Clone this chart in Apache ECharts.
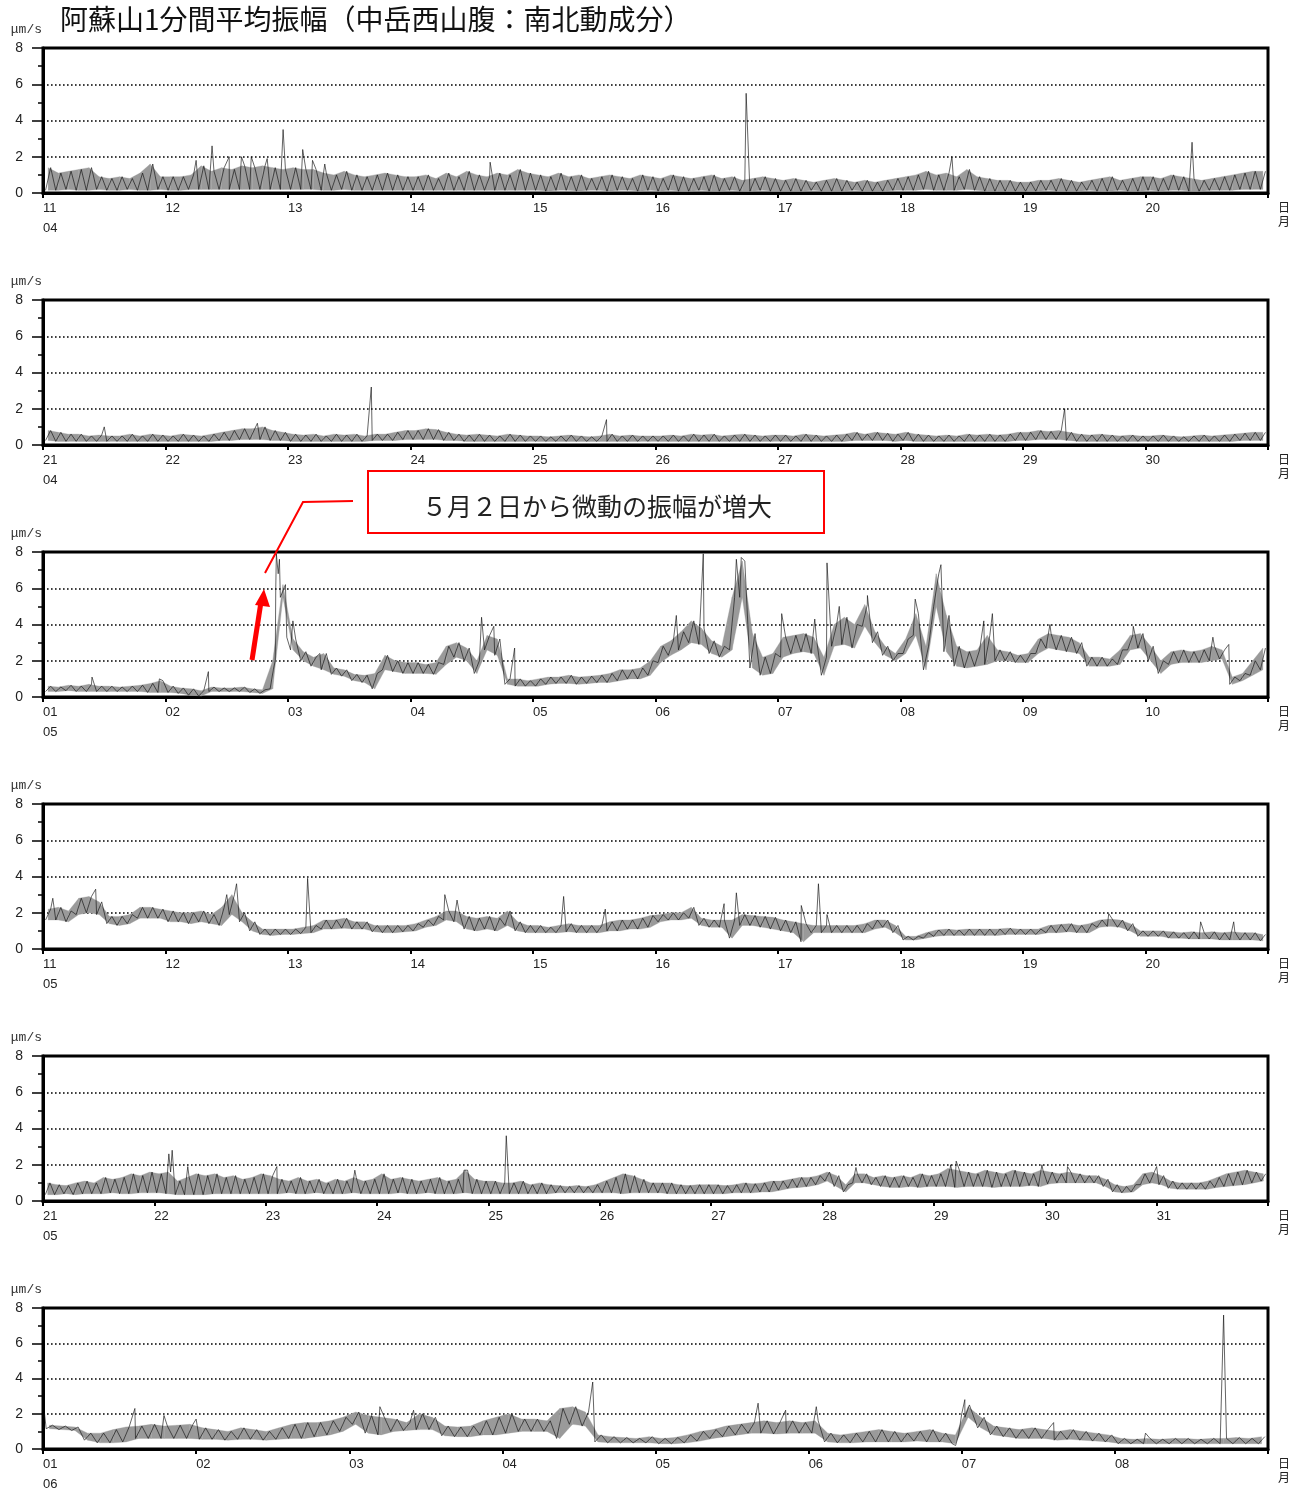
<!DOCTYPE html>
<html><head><meta charset="utf-8">
<script src="https://cdn.jsdelivr.net/npm/echarts@6/dist/echarts.min.js"></script>
<style>html,body{margin:0;padding:0;background:#fff}#c{width:1303px;height:1494px}</style>
</head><body><div id="c"></div>
<script>
// ---- tick labels ----
const p1Days = ['11','12','13','14','15','16','17','18','19','20'];
const p2Days = ['21','22','23','24','25','26','27','28','29','30'];
const p3Days = ['01','02','03','04','05','06','07','08','09','10'];
const p4Days = ['11','12','13','14','15','16','17','18','19','20'];
const p5Days = ['21','22','23','24','25','26','27','28','29','30','31'];
const p6Days = ['01','02','03','04','05','06','07','08'];
const panelMonths = ['04','04','05','05','05','06'];
const panelStartDay = [11, 21, 1, 11, 21, 1];
const yTicks = [0, 2, 4, 6, 8];

// ---- values: 2-hour bins (12 per day), low / high of 1-min mean amplitude (μm/s) ----
const p1Lo = [
0.15,0.15,0.2,0.15,0.15,0.2,0.15,0.15,0.2,0.15,0.15,0.2,
0.15,0.15,0.2,0.2,0.2,0.2,0.2,0.2,0.2,0.2,0.2,0.2,
0.2,0.2,0.2,0.15,0.15,0.2,0.15,0.15,0.15,0.15,0.15,0.15,
0.15,0.15,0.15,0.15,0.15,0.15,0.15,0.15,0.15,0.15,0.15,0.15,
0.15,0.1,0.15,0.15,0.1,0.15,0.15,0.1,0.15,0.15,0.1,0.15,
0.1,0.15,0.1,0.1,0.15,0.1,0.1,0.15,0.1,0.1,0.15,0.1,
0.1,0.1,0.1,0.15,0.1,0.1,0.1,0.15,0.1,0.1,0.1,0.15,
0.15,0.15,0.2,0.15,0.15,0.15,0.2,0.15,0.1,0.1,0.1,0.1,
0.1,0.1,0.15,0.1,0.1,0.1,0.15,0.1,0.1,0.15,0.1,0.1,
0.15,0.1,0.15,0.15,0.1,0.1,0.15,0.15,0.15,0.2,0.2,0.2];
const p1Hi = [
1.4,1.1,1.2,1.3,1.4,0.9,0.8,0.9,0.8,1.1,1.6,0.9,
0.9,0.9,1.0,1.5,1.2,1.4,1.3,1.5,1.4,1.5,1.4,1.3,
1.4,1.3,1.3,1.1,1.0,1.2,1.0,0.9,1.0,1.1,1.0,0.9,
0.9,1.0,0.8,1.1,0.9,1.2,1.0,0.9,1.1,1.0,1.3,1.1,
1.0,0.9,1.1,0.9,1.0,0.8,0.9,1.0,0.9,0.8,1.0,0.9,
0.8,1.0,0.9,0.8,0.9,1.0,0.8,0.9,0.7,0.8,0.9,0.8,
0.7,0.8,0.7,0.6,0.7,0.8,0.7,0.6,0.7,0.6,0.7,0.8,
0.9,1.0,1.2,1.0,1.1,0.9,1.3,0.9,0.8,0.7,0.7,0.6,
0.6,0.7,0.7,0.8,0.7,0.6,0.7,0.8,0.9,0.7,0.8,0.9,
0.9,0.8,1.0,0.9,0.8,0.7,0.8,0.9,1.0,1.1,1.2,1.2];
const p1Extra = [[12.25,1.8],[12.38,2.6],[12.52,2.0],[12.62,2.0],[12.7,2.0],[12.83,1.9],[12.96,3.5],[13.12,2.4],[13.2,1.8],[13.3,1.6],[14.65,1.7],[16.74,5.5],[18.42,2.0],[20.38,2.8]];

const p2Lo = [
0.25,0.2,0.2,0.2,0.2,0.2,0.2,0.2,0.2,0.2,0.2,0.2,
0.2,0.2,0.2,0.2,0.2,0.25,0.25,0.3,0.3,0.3,0.25,0.25,
0.2,0.2,0.2,0.2,0.2,0.2,0.2,0.2,0.25,0.25,0.25,0.3,
0.3,0.3,0.3,0.25,0.25,0.2,0.2,0.2,0.2,0.2,0.2,0.2,
0.2,0.2,0.2,0.2,0.2,0.2,0.2,0.2,0.2,0.2,0.2,0.2,
0.2,0.2,0.2,0.2,0.2,0.2,0.2,0.2,0.2,0.2,0.2,0.2,
0.2,0.2,0.2,0.2,0.2,0.2,0.2,0.25,0.25,0.25,0.25,0.2,
0.25,0.2,0.2,0.2,0.2,0.2,0.2,0.2,0.2,0.2,0.2,0.25,
0.25,0.3,0.3,0.3,0.25,0.2,0.2,0.2,0.2,0.2,0.2,0.2,
0.2,0.2,0.2,0.2,0.2,0.2,0.2,0.2,0.2,0.25,0.25,0.25];
const p2Hi = [
0.8,0.7,0.6,0.6,0.5,0.55,0.5,0.5,0.6,0.5,0.6,0.55,
0.5,0.6,0.55,0.5,0.6,0.7,0.8,0.9,0.9,1.0,0.8,0.7,
0.6,0.55,0.6,0.5,0.6,0.55,0.6,0.5,0.6,0.6,0.7,0.8,
0.8,0.9,0.85,0.7,0.6,0.55,0.6,0.55,0.5,0.6,0.55,0.5,
0.5,0.45,0.5,0.55,0.5,0.45,0.5,0.6,0.5,0.55,0.5,0.5,
0.5,0.55,0.5,0.6,0.55,0.6,0.5,0.55,0.6,0.55,0.5,0.55,
0.55,0.5,0.6,0.55,0.5,0.55,0.6,0.7,0.6,0.7,0.65,0.6,
0.7,0.6,0.55,0.5,0.55,0.5,0.6,0.55,0.6,0.55,0.6,0.7,
0.7,0.8,0.75,0.8,0.7,0.6,0.55,0.6,0.55,0.5,0.55,0.5,
0.5,0.55,0.5,0.45,0.5,0.55,0.5,0.55,0.6,0.65,0.7,0.7];
const p2Extra = [[21.5,1.0],[22.75,1.2],[23.68,3.2],[25.6,1.4],[29.34,2.0]];

const p3Lo = [
0.3,0.3,0.35,0.3,0.3,0.3,0.3,0.3,0.3,0.3,0.25,0.25,
0.25,0.2,0.1,0.05,0.3,0.3,0.3,0.3,0.25,0.2,0.45,5.5,
2.6,2.0,1.7,1.5,1.25,1.15,0.9,0.8,0.45,1.5,1.4,1.3,
1.3,1.3,1.25,1.8,2.2,2.0,1.3,2.6,2.3,0.7,0.6,0.6,
0.6,0.7,0.75,0.75,0.7,0.75,0.8,0.8,0.9,1.0,1.0,1.2,
1.9,2.3,2.6,3.0,2.9,2.4,2.2,2.6,5.5,1.6,1.2,1.3,
2.2,2.4,2.5,2.4,1.2,2.8,2.9,2.7,3.9,3.0,2.3,2.0,
2.4,3.4,1.5,5.0,2.5,1.7,1.6,1.7,1.8,2.0,2.0,1.9,
1.9,2.4,2.7,2.6,2.5,2.4,1.7,1.7,1.7,1.8,2.6,2.7,
2.0,1.3,1.8,1.9,1.9,1.9,2.0,2.1,0.7,0.9,1.2,1.5];
const p3Hi = [
0.6,0.55,0.65,0.6,0.7,0.6,0.6,0.55,0.6,0.65,0.75,0.9,
0.6,0.5,0.45,0.35,0.55,0.5,0.5,0.55,0.45,0.4,2.0,6.2,
3.2,2.5,2.2,2.4,1.6,1.5,1.25,1.2,1.3,2.3,2.0,1.9,
1.9,1.8,1.9,2.8,3.0,2.7,2.0,3.4,3.2,1.0,1.0,0.9,
1.0,1.1,1.1,1.2,1.1,1.15,1.2,1.3,1.5,1.5,1.6,2.0,
2.8,3.1,3.6,4.2,3.8,3.1,2.8,5.5,7.5,3.5,2.2,2.4,
3.3,3.4,3.5,3.3,2.2,4.0,4.4,4.0,5.1,3.6,2.8,2.4,
3.2,4.6,2.8,6.8,4.5,2.8,2.5,2.6,3.4,2.6,2.5,2.3,
2.4,3.2,3.5,3.4,3.3,3.0,2.2,2.2,2.1,2.6,3.4,3.5,
2.8,2.0,2.5,2.6,2.5,2.6,2.8,2.6,1.1,1.3,2.0,2.7];
const p3Extra = [[1.40,1.1],[1.95,1.0],[2.35,1.4],[2.88,1.5],[2.90,6.0],[2.905,7.9],[2.92,6.8],[2.93,7.6],[2.99,3.3],
[3.04,4.2],[3.26,2.4],[4.58,4.4],[4.68,3.9],[4.85,2.7],[6.17,4.5],[6.39,7.9],[6.66,7.6],[6.70,7.7],
[7.03,4.6],[7.30,4.3],[7.40,7.4],[7.50,5.0],[7.73,5.6],[8.12,5.4],[8.33,7.3],[8.68,4.2],[8.75,4.6],
[9.22,4.0],[9.90,3.9],[10.55,3.3],[10.68,2.9]];

const p4Lo = [
1.6,1.6,1.5,1.9,2.0,1.9,1.4,1.3,1.4,1.7,1.7,1.7,
1.5,1.5,1.4,1.5,1.4,1.3,1.9,1.5,1.0,0.8,0.75,0.8,
0.8,0.85,0.9,1.1,1.1,1.15,1.1,1.1,0.95,0.9,0.9,0.95,
1.0,1.2,1.3,1.6,1.5,1.1,1.0,1.1,1.0,1.3,1.0,0.9,
0.9,0.9,0.9,0.95,0.9,0.9,0.9,1.0,1.0,1.1,1.1,1.2,
1.5,1.6,1.6,1.7,1.3,1.2,1.2,0.6,1.3,1.3,1.2,1.1,
1.0,0.9,0.4,0.9,0.9,0.9,0.9,0.9,0.9,1.1,1.2,0.9,
0.5,0.5,0.6,0.7,0.75,0.75,0.75,0.75,0.75,0.75,0.8,0.8,
0.8,0.8,0.9,0.9,0.95,0.9,0.9,1.2,1.25,1.2,1.0,0.7,
0.7,0.7,0.6,0.6,0.55,0.55,0.55,0.5,0.5,0.5,0.5,0.45];
const p4Hi = [
2.2,2.3,2.1,2.8,2.9,2.6,1.8,1.8,1.9,2.3,2.3,2.2,
2.1,2.0,2.0,2.1,1.9,2.3,3.0,2.0,1.5,1.1,1.1,1.1,
1.1,1.2,1.3,1.6,1.6,1.7,1.5,1.5,1.3,1.3,1.3,1.3,
1.4,1.6,1.8,2.1,2.1,1.8,1.7,1.8,1.7,2.1,1.5,1.3,
1.3,1.2,1.3,1.4,1.3,1.3,1.3,1.5,1.6,1.6,1.7,1.85,
1.9,2.0,2.0,2.3,1.7,1.6,1.6,1.6,1.9,1.85,1.8,1.75,
1.6,1.5,1.4,1.3,1.3,1.3,1.3,1.3,1.4,1.6,1.6,1.3,
0.7,0.7,0.9,1.05,1.1,1.05,1.1,1.1,1.1,1.1,1.15,1.1,
1.1,1.1,1.3,1.35,1.4,1.3,1.4,1.6,1.65,1.6,1.4,1.0,
1.0,1.0,0.95,0.9,0.95,0.9,0.95,0.9,0.95,0.9,0.9,0.8];
const p4Extra = [[11.08,2.8],[11.43,3.3],[12.50,3.0],[12.58,3.6],[13.16,3.9],[14.28,3.0],[14.38,2.7],[15.25,2.9],[15.59,2.2],
[16.56,2.5],[16.66,3.1],[17.19,2.4],[17.33,3.6],[17.40,1.9],[19.70,1.95],[20.45,1.5],[20.72,1.5]];

const p5Lo = [
0.35,0.35,0.4,0.35,0.4,0.4,0.4,0.45,0.4,0.4,0.45,0.45,
0.45,0.4,0.35,0.35,0.35,0.35,0.4,0.4,0.4,0.4,0.4,0.4,
0.4,0.4,0.45,0.4,0.4,0.45,0.4,0.4,0.4,0.45,0.4,0.4,
0.4,0.4,0.45,0.4,0.4,0.45,0.4,0.4,0.4,0.45,0.4,0.4,
0.4,0.4,0.4,0.4,0.4,0.4,0.4,0.45,0.45,0.45,0.45,0.45,
0.45,0.45,0.4,0.45,0.45,0.45,0.45,0.4,0.4,0.4,0.4,0.4,
0.4,0.4,0.45,0.45,0.45,0.5,0.5,0.6,0.7,0.75,0.8,0.9,
1.1,0.8,0.5,1.0,1.0,0.9,0.8,0.75,0.75,0.8,0.75,0.8,
0.8,0.8,0.75,0.8,0.8,0.8,0.75,0.8,0.8,0.8,0.85,0.8,
0.95,1.0,1.0,1.0,1.0,1.0,0.8,0.5,0.45,0.5,0.9,1.0,
0.9,0.7,0.65,0.65,0.65,0.65,0.75,0.8,0.85,0.9,1.0,1.1];
const p5Hi = [
1.0,0.9,0.85,1.0,1.1,1.0,1.3,1.2,1.3,1.5,1.4,1.6,
1.5,1.6,1.1,1.3,1.5,1.4,1.5,1.3,1.4,1.2,1.3,1.5,
1.4,1.2,1.1,1.3,1.1,1.2,1.0,1.2,1.1,1.3,1.1,1.2,
1.5,1.2,1.3,1.2,1.1,1.2,1.3,1.1,1.2,1.7,1.2,1.1,
1.1,1.0,1.0,1.1,0.9,1.0,0.9,0.85,0.8,0.85,0.8,0.9,
1.1,1.3,1.5,1.4,1.2,1.0,1.0,1.0,0.9,0.85,0.9,0.9,
0.9,0.85,0.9,1.0,0.95,1.0,1.1,1.1,1.2,1.3,1.3,1.4,
1.6,1.4,0.9,1.5,1.5,1.3,1.4,1.3,1.4,1.3,1.5,1.4,
1.5,1.8,1.7,1.6,1.5,1.7,1.6,1.5,1.7,1.6,1.5,1.7,
1.6,1.5,1.6,1.5,1.4,1.4,1.2,0.9,0.8,0.9,1.5,1.6,
1.4,1.1,1.0,1.0,1.0,1.1,1.3,1.5,1.6,1.7,1.6,1.5];
const p5Extra = [[22.13,2.6],[22.16,2.8],[22.30,1.9],[23.10,1.9],[23.80,1.7],[24.78,1.7],[25.16,3.6],[28.30,1.85],
[29.15,2.0],[29.20,2.2],[29.97,2.0],[30.20,1.9],[31.00,1.9]];

const p6Lo = [
1.15,1.1,1.05,0.5,0.35,0.35,0.4,0.6,0.6,0.6,0.6,0.6,
0.55,0.55,0.5,0.55,0.55,0.5,0.55,0.6,0.6,0.7,0.8,1.0,
1.4,0.9,0.8,1.0,1.05,1.1,1.1,0.75,0.7,0.7,0.8,0.8,
0.9,1.0,1.0,1.0,0.6,1.4,1.3,0.4,0.35,0.35,0.35,0.35,
0.3,0.3,0.35,0.45,0.6,0.7,0.8,0.9,0.9,0.85,0.9,0.9,
0.9,0.4,0.35,0.35,0.4,0.4,0.4,0.4,0.45,0.4,0.4,0.3,
1.8,1.2,0.8,0.7,0.6,0.6,0.6,0.5,0.55,0.5,0.45,0.4,
0.3,0.3,0.3,0.3,0.3,0.3,0.3,0.3,0.3,0.3,0.3,0.3];
const p6Hi = [
1.35,1.3,1.25,0.9,0.9,1.1,1.25,1.3,1.4,1.3,1.35,1.4,
1.2,1.1,1.0,1.2,1.1,1.0,1.2,1.4,1.5,1.5,1.6,1.8,
2.1,1.9,1.8,1.7,1.5,2.0,1.8,1.3,1.25,1.3,1.6,1.8,
2.0,1.7,1.7,1.6,2.3,2.4,2.1,0.8,0.7,0.65,0.6,0.7,
0.6,0.65,0.8,1.0,1.1,1.3,1.4,1.5,1.6,1.5,1.6,1.5,
1.6,0.9,0.8,0.9,1.0,1.1,1.0,0.9,1.0,1.1,0.9,0.8,
2.4,1.8,1.3,1.2,1.1,1.2,1.1,1.0,1.1,1.0,0.9,0.8,
0.6,0.55,0.6,0.55,0.6,0.6,0.55,0.6,0.6,0.65,0.6,0.7];
const p6Extra = [[1.01,2.0],[1.60,2.3],[1.79,1.9],[2.00,1.7],[3.20,2.4],[3.42,2.2],[4.59,3.8],[5.67,2.6],[5.85,2.2],
[6.05,2.4],[6.96,0.2],[7.00,2.0],[7.02,2.8],[7.05,2.5],[7.60,1.5],[8.20,0.9],[8.71,7.6]];

// ---- build chart ----
const panels = [
  {days:p1Days, lo:p1Lo, hi:p1Hi, extra:p1Extra},
  {days:p2Days, lo:p2Lo, hi:p2Hi, extra:p2Extra},
  {days:p3Days, lo:p3Lo, hi:p3Hi, extra:p3Extra},
  {days:p4Days, lo:p4Lo, hi:p4Hi, extra:p4Extra},
  {days:p5Days, lo:p5Lo, hi:p5Hi, extra:p5Extra},
  {days:p6Days, lo:p6Lo, hi:p6Hi, extra:p6Extra}
];
const binDays = 1/12;
function buildLine(p, start) {
  const pts = [];
  for (let i = 0; i < p.lo.length; i++) {
    const t0 = i * binDays;
    pts.push([t0 + 0.25 * binDays, p.lo[i]]);
    pts.push([t0 + 0.75 * binDays, p.hi[i]]);
  }
  p.extra.forEach(e => pts.push([e[0] - start, e[1]]));
  pts.sort((a, b) => a[0] - b[0]);
  return pts;
}
function buildBand(p) {
  const out = [];
  for (let i = 0; i + 1 < p.lo.length; i++) {
    out.push([(i + 0.5) * binDays, p.lo[i], p.hi[i], (i + 1.5) * binDays, p.lo[i + 1], p.hi[i + 1]]);
  }
  return out;
}
function renderBand(params, api) {
  const a = api.coord([api.value(0), api.value(1)]);
  const b = api.coord([api.value(3), api.value(4)]);
  const c = api.coord([api.value(3), api.value(5)]);
  const d = api.coord([api.value(0), api.value(2)]);
  return {type: 'polygon', shape: {points: [a, b, c, d]}, style: {fill: '#9a9a9a', stroke: '#9a9a9a', lineWidth: 0.3}};
}
const tops = [48, 300, 552, 804, 1056, 1308];
const grids = [], xAxes = [], yAxes = [], series = [];
const numFont = '"Liberation Sans Narrow","Liberation Sans",Arial,sans-serif';
panels.forEach((p, i) => {
  const n = p.days.length;
  grids.push({left: 43, right: 35, top: tops[i], height: 145, show: true, borderColor: '#000', borderWidth: 3, backgroundColor: 'transparent'});
  xAxes.push({
    type: 'value', gridIndex: i, min: 0, max: n, interval: 1,
    axisLine: {show: true, lineStyle: {color: '#000', width: 3}},
    axisTick: {show: true, length: 5, lineStyle: {color: '#000', width: 2}},
    splitLine: {show: false},
    axisLabel: {
      show: true, margin: 5, align: 'left', color: '#222', fontFamily: numFont, fontSize: 13,
      lineHeight: 20, showMaxLabel: true,
      formatter: (v) => {
        const k = Math.round(v);
        if (k >= n) return '';
        return k === 0 ? p.days[0] + '\n' + panelMonths[i] : p.days[k];
      }
    },
    name: '日\n月', nameLocation: 'end', nameGap: 10,
    nameTextStyle: {fontFamily: '"Noto Sans CJK JP",sans-serif', fontSize: 12, lineHeight: 14, color: '#222', verticalAlign: 'top', align: 'left', padding: [7, 0, 0, 0]}
  });
  yAxes.push({
    type: 'value', gridIndex: i, min: 0, max: 8, interval: 2,
    axisLine: {show: true, lineStyle: {color: '#000', width: 3}},
    axisTick: {show: true, length: 11, lineStyle: {color: '#000', width: 1.5}},
    minorTick: {show: true, splitNumber: 2, length: 5, lineStyle: {color: '#000', width: 1.5}},
    splitLine: {show: true, lineStyle: {color: '#000', width: 1.6, type: [1.6, 2.4]}},
    axisLabel: {margin: 20, color: '#222', fontFamily: numFont, fontSize: 14, formatter: v => yTicks.includes(v) ? String(v) : ''},
    name: 'μm/s', nameLocation: 'end', nameGap: 12,
    nameTextStyle: {fontFamily: '"Liberation Mono","DejaVu Sans Mono",monospace', fontSize: 13, color: '#333', align: 'right', padding: [0, 1, 0, 0]}
  });
  series.push({
    type: 'custom', xAxisIndex: i, yAxisIndex: i, renderItem: renderBand, animation: false, silent: true,
    encode: {x: [0, 3], y: [1, 2, 4, 5]}, data: buildBand(p), z: 2
  });
  series.push({
    type: 'line', xAxisIndex: i, yAxisIndex: i, showSymbol: false, symbol: 'none', animation: false,
    lineStyle: {color: '#111', width: 0.65}, data: buildLine(p, panelStartDay[i]), clip: true, z: 3
  });
});

const chart = echarts.init(document.getElementById('c'), null, {renderer: 'canvas'});
chart.setOption({
  backgroundColor: '#fff',
  animation: false,
  title: {text: '阿蘇山1分間平均振幅（中岳西山腹：南北動成分）', left: 55, top: 0,
    textStyle: {fontFamily: '"Noto Sans CJK JP",sans-serif', fontSize: 28, fontWeight: 'normal', color: '#111'}},
  grid: grids, xAxis: xAxes, yAxis: yAxes, series: series,
  graphic: [
    {type: 'rect', shape: {x: 368, y: 471, width: 456, height: 62}, style: {fill: '#fff', stroke: '#ff0000', lineWidth: 2}, z: 10},
    {type: 'text', x: 597, y: 506, style: {text: '５月２日から微動の振幅が増大', fill: '#222', font: '25px "Noto Sans CJK JP"', textAlign: 'center', textVerticalAlign: 'middle'}, z: 11},
    {type: 'polyline', shape: {points: [[353, 501], [303, 502], [265, 573]]}, style: {stroke: '#ff0000', lineWidth: 2, fill: null}, z: 10},
    {type: 'line', shape: {x1: 252, y1: 660, x2: 261, y2: 602}, style: {stroke: '#ff0000', lineWidth: 5}, z: 10},
    {type: 'polygon', shape: {points: [[255, 605], [270, 607], [264, 589]]}, style: {fill: '#ff0000'}, z: 10}
  ]
});
</script></body></html>
